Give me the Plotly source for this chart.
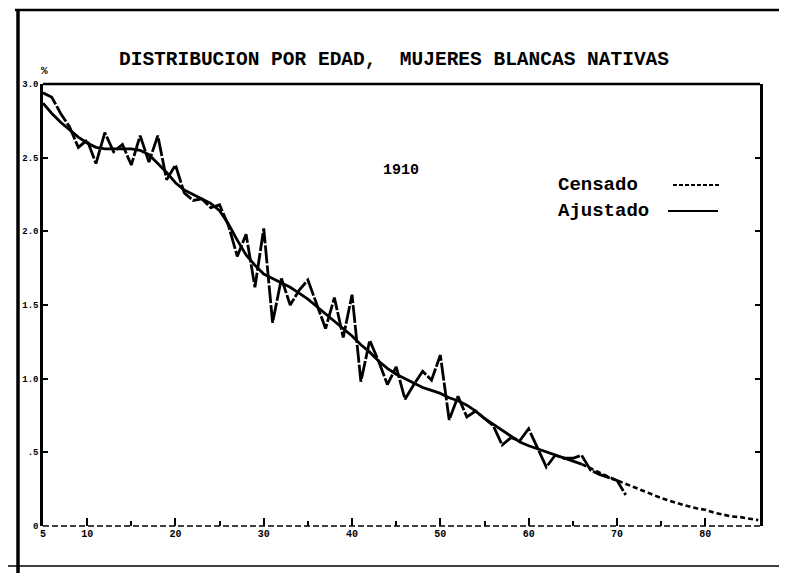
import plotly.graph_objects as go

# ---- data ----
ages_censado = list(range(5, 72))
censado = [2.94, 2.91, 2.80, 2.71, 2.57, 2.62, 2.46, 2.67, 2.54, 2.59,
           2.45, 2.65, 2.47, 2.65, 2.35, 2.45, 2.26, 2.21, 2.22, 2.16,
           2.18, 2.04, 1.83, 1.98, 1.62, 2.02, 1.38, 1.68, 1.50, 1.60,
           1.67, 1.50, 1.34, 1.55, 1.28, 1.57, 0.98, 1.26, 1.12, 0.96,
           1.08, 0.86, 0.96, 1.05, 0.99, 1.16, 0.72, 0.88, 0.74, 0.78,
           0.73, 0.68, 0.55, 0.60, 0.58, 0.66, 0.53, 0.40, 0.48, 0.46,
           0.46, 0.48, 0.38, 0.35, 0.33, 0.31, 0.21]

ages_ajustado = list(range(5, 87))
ajustado = [2.87, 2.80, 2.74, 2.69, 2.64, 2.60, 2.57, 2.56, 2.56, 2.56,
            2.56, 2.55, 2.52, 2.46, 2.40, 2.33, 2.28, 2.25, 2.22, 2.19,
            2.14, 2.05, 1.94, 1.84, 1.77, 1.71, 1.68, 1.65, 1.62, 1.58,
            1.54, 1.49, 1.44, 1.39, 1.34, 1.29, 1.23, 1.18, 1.12, 1.07,
            1.03, 1.00, 0.97, 0.94, 0.92, 0.90, 0.87, 0.85, 0.82, 0.78,
            0.73, 0.69, 0.65, 0.61, 0.57, 0.545, 0.525, 0.505, 0.48, 0.46,
            0.44, 0.42, 0.39, 0.36, 0.335, 0.31, 0.285, 0.26, 0.235, 0.215,
            0.19, 0.17, 0.15, 0.135, 0.12, 0.11, 0.09, 0.075, 0.065, 0.06,
            0.05, 0.04]
split_age = 66  # adjusted curve drawn broken beyond this age

x_tickvals = [5, 10, 20, 30, 40, 50, 60, 70, 80]
x_ticktext = ["5", "10", "20", "30", "40", "50", "60", "70", "80"]
x_minor = [15, 25, 35, 45, 55, 65, 75]
y_tickvals = [0, 0.5, 1.0, 1.5, 2.0, 2.5, 3.0]
y_ticktext = ["0", ".5", "1.0", "1.5", "2.0", "2.5", "3.0"]

title_text = "DISTRIBUCION POR EDAD,  MUJERES BLANCAS NATIVAS"
year_text = "1910"
legend_labels = ["Censado", "Ajustado"]

FONT = "Liberation Mono, Courier New, DejaVu Sans Mono, monospace"
OFF = 8                      # page body margin in the browser
W, H = 787 - OFF, 573 - OFF
L, R, T, B = 43 - OFF, 27, 84 - OFF, 47

def px(xs):
    """screen x (pixels in the 787x573 shot) -> paper x"""
    return (xs - OFF - L) / (W - L - R)

def py(ys):
    """screen y -> paper y"""
    return (H - B - (ys - OFF)) / (H - T - B)

i_split = ages_ajustado.index(split_age)

fig = go.Figure()
fig.add_trace(go.Scatter(x=ages_censado, y=censado, mode="lines",
                         line=dict(color="black", width=2.8, dash="18px,2px"),
                         name=legend_labels[0]))
fig.add_trace(go.Scatter(x=ages_ajustado[:i_split + 1], y=ajustado[:i_split + 1],
                         mode="lines", line=dict(color="black", width=2.8),
                         name=legend_labels[1]))
fig.add_trace(go.Scatter(x=ages_ajustado[i_split:], y=ajustado[i_split:],
                         mode="lines", line=dict(color="black", width=2.6, dash="5px,3px"),
                         showlegend=False))

fig.update_layout(
    width=W, height=H,
    margin=dict(l=L, r=R, t=T, b=B),
    plot_bgcolor="white", paper_bgcolor="white",
    showlegend=False,
    font=dict(family=FONT, color="black"),
    title=dict(text=title_text, xref="container", yref="container",
               x=(394 - OFF) / W, y=1 - (58 - OFF) / H,
               xanchor="center", yanchor="middle",
               font=dict(family=FONT, size=19.5, color="black", weight="bold")),
    xaxis=dict(range=[5, 86.2], showgrid=False, zeroline=False, showline=False,
               tickvals=x_tickvals, ticktext=x_ticktext,
               ticks="inside", ticklen=8, tickwidth=2, tickcolor="black",
               minor=dict(tickvals=x_minor, ticks="inside", ticklen=5,
                          tickwidth=1.5, tickcolor="black"),
               tickfont=dict(family=FONT, size=10, weight="bold")),
    yaxis=dict(range=[0, 3.0], showgrid=False, zeroline=False,
               showline=True, linewidth=2.5, linecolor="black", mirror="ticks",
               tickvals=y_tickvals, ticktext=y_ticktext,
               ticks="inside", ticklen=5, tickwidth=1.5, tickcolor="black",
               tickfont=dict(family=FONT, size=9, weight="bold")),
)

# plot frame: solid top line, dashed bottom axis line
fig.add_shape(type="line", xref="paper", yref="paper", x0=0, x1=1, y0=1, y1=1,
              line=dict(color="black", width=2.5))
fig.add_shape(type="line", xref="paper", yref="paper", x0=0, x1=1, y0=0, y1=0,
              line=dict(color="black", width=1.5, dash="6px,3px"))

# scanned page frame
fig.add_shape(type="line", xref="paper", yref="paper",
              x0=px(15), x1=px(787), y0=py(10), y1=py(10),
              line=dict(color="black", width=2.5))
fig.add_shape(type="line", xref="paper", yref="paper",
              x0=px(18), x1=px(18), y0=py(9), y1=py(573),
              line=dict(color="black", width=3.5))
fig.add_shape(type="line", xref="paper", yref="paper",
              x0=px(8), x1=px(787), y0=py(566), y1=py(566),
              line=dict(color="black", width=1.5))

# legend (text left of the line sample)
fig.add_annotation(text=legend_labels[0], xref="paper", yref="paper",
                   x=px(556), y=py(185), xanchor="left", yanchor="middle",
                   showarrow=False, font=dict(family=FONT, size=19, weight="bold"))
fig.add_annotation(text=legend_labels[1], xref="paper", yref="paper",
                   x=px(556), y=py(211), xanchor="left", yanchor="middle",
                   showarrow=False, font=dict(family=FONT, size=19, weight="bold"))
fig.add_shape(type="line", xref="paper", yref="paper",
              x0=px(673), x1=px(720), y0=py(185), y1=py(185),
              line=dict(color="black", width=2, dash="4px,2px"))
fig.add_shape(type="line", xref="paper", yref="paper",
              x0=px(668), x1=px(718), y0=py(211), y1=py(211),
              line=dict(color="black", width=2.2))

# year label and unit
fig.add_annotation(text=year_text, xref="paper", yref="paper",
                   x=px(401), y=py(170), xanchor="center", yanchor="middle",
                   showarrow=False, font=dict(family=FONT, size=15, weight="bold"))
fig.add_annotation(text="%", xref="paper", yref="paper",
                   x=px(44), y=py(71), xanchor="center", yanchor="middle",
                   showarrow=False, font=dict(family=FONT, size=11, weight="bold"))

fig.write_html("out.html")
